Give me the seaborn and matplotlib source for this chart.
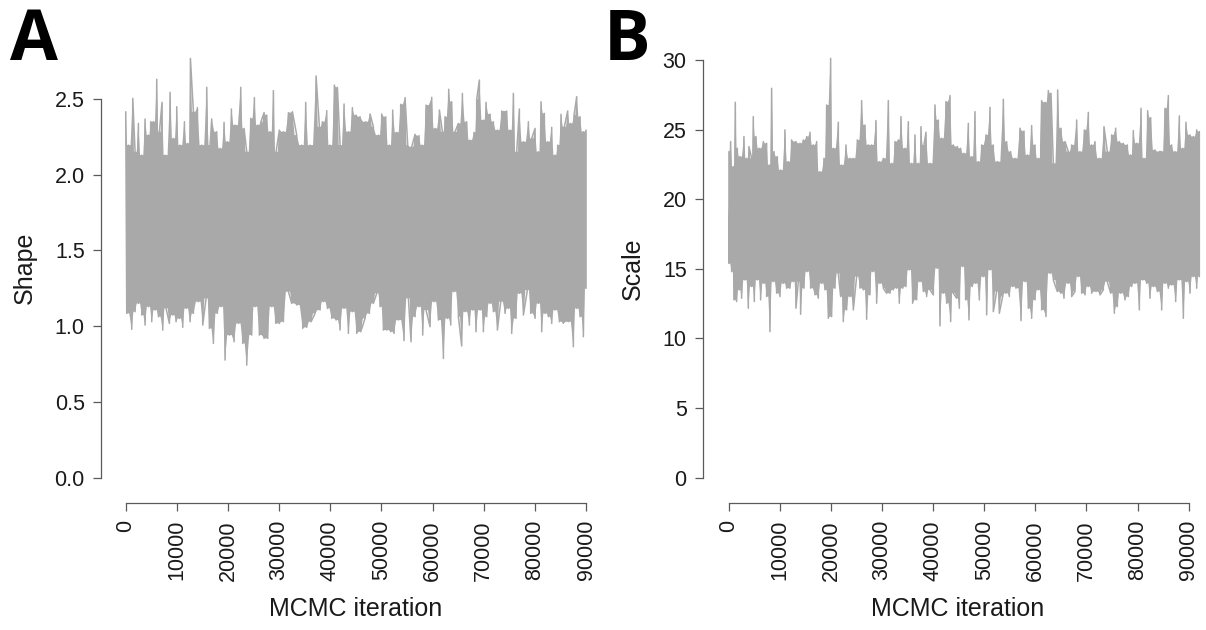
import numpy as np
import pandas as pd
import matplotlib
matplotlib.use("Agg")
import matplotlib.pyplot as plt
import seaborn as sns

# ---------------- data ----------------
# Panel A (Shape): local maxima of the trace and their iterations
shape_upper_iter = [
    0, 521, 1369, 1825, 2476, 3128, 3780, 4432, 4888, 5409,
    6061, 6582, 7104, 7690, 8668, 9319, 9971, 10623, 11470, 12122,
    12643, 13230, 14012, 14859, 15836, 16488, 16814, 17791, 18443, 19225,
    19877, 20659, 21376, 22484, 23135, 23657, 24439, 25156, 25807, 26394,
    27046, 27567, 28219, 28870, 29392, 30043, 30825, 31803, 32585, 33432,
    34410, 35192, 36039, 37212, 37864, 38450, 39298, 39949, 40796, 41383,
    41904, 42686, 43534, 44316, 45032, 45815, 46922, 47770, 48421, 49399,
    50051, 50833, 51549, 52201, 52983, 53765, 54612, 55134, 55916, 56568,
    57350, 57936, 58718, 59826, 60478, 61325, 61912, 62433, 63150, 63736,
    64388, 65040, 65822, 66669, 67321, 68103, 68624, 69145, 69927, 70449,
    71231, 71883, 72665, 73512, 74489, 75141, 75793, 76444, 76966, 77748,
    78725, 79377, 80029, 80680, 81202, 81852, 82505, 83287, 83939, 84460,
    85112, 85764, 86415, 87002, 87654, 88175, 88827, 89478, 90000,
]
shape_upper = [
    2.414, 2.194, 2.502, 2.150, 2.337, 2.128, 2.366, 2.260, 2.348, 2.348,
    2.628, 2.282, 2.476, 2.128, 2.542, 2.238, 2.447, 2.194, 2.348, 2.205,
    2.766, 2.414, 2.441, 2.194, 2.575, 2.194, 2.366, 2.282, 2.172, 2.344,
    2.216, 2.432, 2.326, 2.575, 2.304, 2.150, 2.370, 2.507, 2.326, 2.344,
    2.408, 2.392, 2.282, 2.553, 2.150, 2.293, 2.282, 2.408, 2.414, 2.260,
    2.194, 2.476, 2.194, 2.650, 2.315, 2.348, 2.421, 2.194, 2.590, 2.575,
    2.194, 2.465, 2.282, 2.441, 2.392, 2.381, 2.348, 2.399, 2.315, 2.260,
    2.399, 2.381, 2.194, 2.425, 2.278, 2.463, 2.507, 2.194, 2.183, 2.265,
    2.256, 2.194, 2.458, 2.509, 2.304, 2.425, 2.282, 2.381, 2.562, 2.480,
    2.282, 2.337, 2.535, 2.348, 2.227, 2.278, 2.496, 2.623, 2.359, 2.476,
    2.399, 2.348, 2.293, 2.419, 2.419, 2.293, 2.535, 2.150, 2.432, 2.216,
    2.348, 2.238, 2.304, 2.150, 2.480, 2.403, 2.216, 2.311, 2.128, 2.194,
    2.397, 2.315, 2.419, 2.337, 2.392, 2.513, 2.381, 2.282, 2.293,
]
# Panel A (Shape): local minima of the trace and their iterations
shape_lower_iter = [
    196, 1173, 1825, 2476, 3128, 3780, 4432, 5083, 5735, 6387,
    7234, 7886, 8537, 9189, 9841, 10492, 11144, 11796, 12578, 13230,
    14207, 15054, 15706, 16358, 17140, 17922, 18639, 19421, 20268, 21180,
    22027, 22875, 23657, 24634, 25286, 26133, 27046, 27762, 28544, 29327,
    30043, 30825, 31803, 32455, 33432, 34605, 35387, 36235, 37017, 37994,
    38646, 39428, 40275, 41122, 41904, 42686, 43534, 44316, 45163, 45945,
    46792, 47639, 48421, 49073, 49725, 50376, 51028, 51810, 52462, 53309,
    54417, 55264, 55786, 56568, 57350, 58066, 58718, 59500, 60282, 61129,
    62107, 62889, 63541, 64192, 65040, 65691, 66343, 67190, 67842, 68494,
    69276, 69927, 70579, 71231, 71883, 72665, 73316, 74163, 74815, 75467,
    76314, 76966, 77748, 78530, 79182, 80029, 80680, 81332, 81984, 82636,
    83287, 83939, 84786, 85568, 86546, 87523, 88175, 88827, 89478, 90000,
]
shape_lower = [
    1.084, 0.979, 1.095, 1.150, 1.073, 1.007, 1.128, 1.029, 1.106, 1.062,
    0.974, 1.117, 1.018, 1.073, 1.029, 1.051, 0.992, 1.117, 1.029, 1.084,
    1.161, 1.007, 1.183, 0.985, 0.886, 1.084, 1.128, 0.776, 0.941, 0.897,
    1.018, 0.886, 0.743, 0.941, 1.128, 0.941, 0.919, 0.919, 1.128, 1.018,
    1.018, 1.029, 1.227, 1.150, 1.139, 0.985, 0.992, 1.029, 1.084, 1.106,
    1.161, 1.117, 1.051, 1.040, 0.974, 1.117, 0.952, 1.095, 0.952, 0.963,
    1.051, 1.084, 1.150, 1.216, 1.128, 0.974, 0.974, 0.963, 0.952, 1.040,
    0.904, 1.183, 0.897, 1.062, 1.128, 0.941, 1.106, 0.996, 1.161, 1.040,
    0.787, 1.051, 1.007, 1.227, 1.062, 0.869, 1.095, 1.007, 1.106, 0.963,
    1.106, 0.963, 1.062, 1.150, 1.095, 0.974, 1.161, 1.084, 1.117, 0.952,
    1.051, 1.216, 1.073, 1.238, 1.084, 1.051, 1.150, 0.963, 1.084, 1.062,
    1.018, 1.106, 1.029, 1.018, 1.029, 0.864, 1.117, 1.062, 0.930, 1.249,
]

# Panel B (Scale): local maxima of the trace and their iterations
scale_upper_iter = [
    0, 326, 849, 1240, 1632, 2154, 2937, 3459, 3916, 4438,
    4765, 5287, 5940, 6723, 7376, 7898, 8355, 8811, 9464, 10117,
    10965, 11618, 12271, 13119, 13903, 14555, 15208, 15861, 16513, 17166,
    17819, 18602, 19124, 19907, 20430, 21409, 22061, 22910, 23693, 24346,
    25129, 25977, 26630, 27283, 27936, 28784, 29437, 30220, 31199, 31852,
    32504, 33157, 33679, 34463, 35115, 35768, 36421, 37073, 37596, 38183,
    38575, 39358, 40337, 40990, 41642, 42491, 43274, 43927, 44710, 45363,
    46015, 46864, 47517, 48169, 48822, 49475, 50323, 51106, 51759, 52542,
    53717, 54370, 55153, 56002, 56981, 57764, 58417, 59265, 59918, 60571,
    61223, 61876, 62529, 63051, 63508, 64356, 65009, 65792, 66445, 67098,
    68077, 68729, 69578, 70361, 71014, 71666, 72515, 73429, 74081, 74930,
    75713, 76431, 77214, 77998, 78650, 79173, 79825, 80674, 81261, 81979,
    82567, 83415, 84264, 84721, 85373, 86026, 86679, 87331, 88180, 88832,
    89485, 90268, 90921, 91574, 92096,
]
scale_upper = [
    23.42, 24.14, 22.34, 26.96, 23.66, 23.06, 24.50, 22.94, 23.78, 22.94,
    25.93, 24.50, 23.66, 24.14, 24.02, 22.46, 27.97, 23.42, 23.06, 22.10,
    24.98, 22.70, 24.26, 24.14, 24.02, 24.26, 24.50, 24.81, 23.90, 24.14,
    21.98, 22.94, 26.77, 30.12, 23.66, 25.53, 22.46, 23.90, 22.94, 22.94,
    24.26, 27.08, 25.33, 23.90, 23.90, 25.65, 22.70, 22.94, 27.08, 22.58,
    24.14, 24.26, 25.93, 23.66, 25.57, 22.58, 24.62, 22.58, 25.21, 23.90,
    24.81, 22.58, 26.77, 25.69, 24.38, 27.01, 27.44, 23.90, 23.78, 23.66,
    23.30, 25.45, 23.06, 26.29, 22.70, 23.90, 24.62, 26.60, 23.90, 22.70,
    27.18, 24.14, 23.42, 22.94, 25.10, 24.90, 23.18, 25.29, 23.90, 22.94,
    27.08, 26.96, 27.80, 27.61, 22.58, 27.85, 25.10, 24.14, 23.42, 23.90,
    25.69, 23.42, 24.98, 26.24, 23.90, 24.14, 22.94, 25.21, 23.42, 24.62,
    25.10, 24.14, 24.02, 23.90, 23.18, 24.93, 24.02, 26.53, 22.94, 26.36,
    25.86, 23.54, 23.42, 23.42, 26.53, 27.44, 23.90, 23.42, 25.98, 23.66,
    25.53, 24.62, 24.50, 24.98, 24.86,
]
# Panel B (Scale): local minima of the trace and their iterations
scale_lower_iter = [
    0, 522, 979, 1501, 2023, 2480, 3133, 3786, 4438, 4961,
    5548, 6201, 6853, 7376, 8028, 8681, 9334, 9986, 10639, 11292,
    11944, 12597, 13119, 13576, 14033, 14686, 15338, 15991, 16840, 17492,
    18145, 18798, 19450, 20103, 20756, 21409, 21865, 22388, 23040, 23693,
    24346, 24998, 25651, 26304, 26957, 27609, 28131, 28915, 29567, 30220,
    30873, 31525, 32178, 32831, 33353, 34006, 34658, 35311, 35964, 36747,
    37400, 38052, 38705, 39358, 40011, 40794, 41316, 41969, 42621, 43405,
    43927, 44579, 45102, 45754, 46342, 46994, 47647, 48300, 49018, 49801,
    50454, 51106, 51759, 52412, 52934, 53587, 54239, 54892, 55545, 56197,
    57177, 57960, 58612, 59265, 59918, 60571, 61223, 62072, 62855, 63508,
    64291, 64944, 65596, 66445, 67098, 67750, 68403, 69056, 69708, 70361,
    71014, 71862, 72646, 73298, 74081, 74734, 75452, 76040, 76692, 77541,
    78193, 78846, 79499, 80347, 81000, 81783, 82436, 83089, 83872, 84721,
    85373, 86026, 86679, 87462, 88180, 88963, 89616, 90268, 90921, 91574,
    92096,
]
scale_lower = [
    15.40, 14.80, 12.77, 12.65, 13.49, 12.89, 14.20, 12.17, 13.73, 12.65,
    14.20, 12.77, 13.96, 13.01, 10.49, 14.08, 13.25, 13.01, 13.96, 13.61,
    13.61, 14.08, 12.17, 14.08, 11.74, 13.61, 14.80, 13.61, 13.13, 12.89,
    13.96, 13.49, 11.45, 11.57, 13.61, 14.68, 13.01, 11.21, 12.05, 13.01,
    12.05, 14.44, 13.61, 13.49, 11.38, 13.13, 14.80, 12.53, 13.96, 13.61,
    13.25, 13.25, 13.49, 13.61, 12.53, 13.61, 13.73, 14.92, 12.53, 12.77,
    14.08, 13.37, 13.01, 13.49, 13.13, 15.04, 10.90, 13.25, 12.53, 11.21,
    13.25, 12.89, 12.17, 15.16, 12.77, 11.33, 13.73, 13.96, 12.77, 14.44,
    11.69, 14.92, 11.93, 13.37, 11.81, 13.01, 13.25, 13.01, 13.73, 13.61,
    11.28, 14.08, 12.17, 11.45, 12.77, 13.49, 12.05, 11.57, 14.68, 14.20,
    13.37, 13.25, 12.89, 13.96, 13.01, 13.37, 14.44, 13.25, 13.13, 13.73,
    13.25, 13.37, 13.13, 13.49, 14.08, 13.25, 11.81, 12.29, 13.25, 12.77,
    13.01, 13.73, 13.96, 12.05, 14.20, 13.96, 12.89, 13.73, 13.37, 12.05,
    13.96, 13.61, 13.84, 12.65, 14.20, 11.45, 14.08, 13.25, 14.44, 13.61,
    14.44,
]

x_ticks = [0, 10000, 20000, 30000, 40000, 50000, 60000, 70000, 80000, 90000]
shape_yticks = [0.0, 0.5, 1.0, 1.5, 2.0, 2.5]
shape_ytick_labels = ["0.0", "0.5", "1.0", "1.5", "2.0", "2.5"]
scale_yticks = [0, 5, 10, 15, 20, 25, 30]
scale_ytick_labels = ["0", "5", "10", "15", "20", "25", "30"]

panel_letters = ["A", "B"]
y_labels = ["Shape", "Scale"]
x_label = "MCMC iteration"

# ---------------- style ----------------
sns.set_theme(style="ticks")
plt.rcParams["font.family"] = ["Liberation Sans", "DejaVu Sans"]

TRACE = "#a9a9a9"
AXCOL = "#5a5a5a"
TXT = "#1a1a1a"


def trace_frame(up_it, up, lo_it, lo):
    df = pd.DataFrame({
        "iteration": np.concatenate([up_it, lo_it]).astype(float),
        "value": np.concatenate([up, lo]).astype(float),
    })
    return df.sort_values("iteration", kind="stable").reset_index(drop=True)


def body_polygon(up_it, up, lo_it, lo):
    """Outline of the densely sampled band: peaks / troughs with the
    neighbouring extreme shared at the midpoint between them."""
    ux, uy = np.asarray(up_it, float), np.asarray(up, float)
    lx, ly = np.asarray(lo_it, float), np.asarray(lo, float)
    top_x, top_y = [], []
    for k in range(len(ux)):
        top_x.append(ux[k]); top_y.append(uy[k])
        if k < len(ux) - 1:
            top_x.append(0.5 * (ux[k] + ux[k + 1]))
            top_y.append(min(uy[k], uy[k + 1]))
    bot_x, bot_y = [], []
    for k in range(len(lx)):
        bot_x.append(lx[k]); bot_y.append(ly[k])
        if k < len(lx) - 1:
            bot_x.append(0.5 * (lx[k] + lx[k + 1]))
            bot_y.append(max(ly[k], ly[k + 1]))
    xs = top_x + bot_x[::-1]
    ys = top_y + bot_y[::-1]
    return xs, ys


fig = plt.figure(figsize=(12.06, 6.30), dpi=100)

axA = fig.add_axes([0.0890, 0.2152, 0.4122, 0.7196])
axB = fig.add_axes([0.5892, 0.2152, 0.4091, 0.7161])

panels = [
    (axA, (shape_upper_iter, shape_upper, shape_lower_iter, shape_lower),
     (-3600, 93600), (-0.11, 2.88), shape_yticks, shape_ytick_labels, 4.75),
    (axB, (scale_upper_iter, scale_upper, scale_lower_iter, scale_lower),
     (-3600, 93000), (-1.2, 31.2), scale_yticks, scale_ytick_labels, 5.7),
]

for i, (ax, series, xl, yl, yt, ytl, loff) in enumerate(panels):
    xs, ys = body_polygon(*series)
    ax.fill(xs, ys, color=TRACE, lw=0)
    df = trace_frame(*series)
    sns.lineplot(data=df, x="iteration", y="value", ax=ax, color=TRACE,
                 lw=1.1, estimator=None, sort=False)
    ax.set_xlim(*xl)
    ax.set_ylim(*yl)
    ax.set_facecolor("white")
    for s in ["top", "right"]:
        ax.spines[s].set_visible(False)
    ax.spines["left"].set_position(("outward", loff))
    ax.spines["bottom"].set_position(("outward", 6.0))
    ax.spines["left"].set_bounds(yt[0], yt[-1])
    ax.spines["bottom"].set_bounds(x_ticks[0], x_ticks[-1])
    for s in ["left", "bottom"]:
        ax.spines[s].set_color(AXCOL)
        ax.spines[s].set_linewidth(0.9)
    ax.set_xticks(x_ticks)
    ax.set_xticklabels([str(v) for v in x_ticks], rotation=90)
    ax.set_yticks(yt)
    ax.set_yticklabels(ytl)
    ax.tick_params(axis="both", colors=AXCOL, labelcolor=TXT, width=0.9,
                   length=5.5, labelsize=15.5)
    ax.tick_params(axis="x", pad=7)
    ax.tick_params(axis="y", pad=6)
    ax.set_xlabel(x_label, fontsize=18, color=TXT, labelpad=12)
    ax.set_ylabel(y_labels[i], fontsize=18, color=TXT, labelpad=13)
    ax.grid(False)

fig.text(10 / 1206, 1 - 60 / 630, panel_letters[0], fontsize=50, fontweight="bold",
         family=["Open Sans", "DejaVu Sans"], ha="left", va="baseline", color="black")
fig.text(604 / 1206, 1 - 60 / 630, panel_letters[1], fontsize=50, fontweight="bold",
         family=["Open Sans", "DejaVu Sans"], ha="left", va="baseline", color="black")

fig.savefig("out.png", dpi=100, facecolor="white")
